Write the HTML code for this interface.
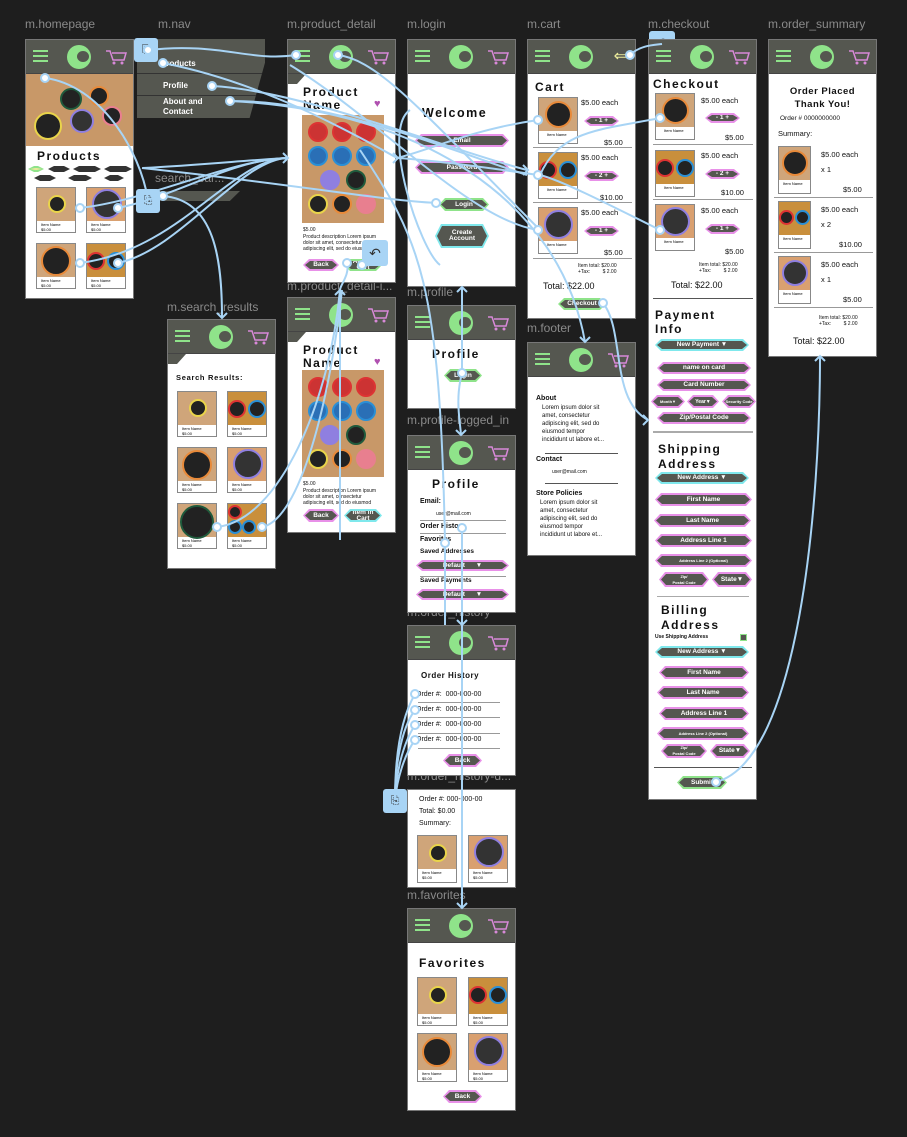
<!DOCTYPE html>
<html><head><meta charset="utf-8"><style>
*{margin:0;padding:0;box-sizing:border-box}
body{width:907px;height:1137px;background:#1e1e1e;position:relative;overflow:hidden;font-family:"Liberation Sans",sans-serif}
.lb{position:absolute;color:#8a8a8a;font-size:12px;white-space:nowrap}
.f{position:absolute;background:#fff;overflow:hidden;border:1px solid #777}
.hdr{position:absolute;left:0;top:0;right:0;height:34px;background:#555750;border-bottom:1px solid #444}
.hb{position:absolute;left:7px;top:10px;width:15px;height:12px;border-top:2px solid #8fe38a;border-bottom:2px solid #8fe38a}
.hb:after{content:"";position:absolute;left:0;right:0;top:3px;height:2px;background:#8fe38a}
.lg{position:absolute;left:41px;top:5px;width:24px;height:24px;border-radius:50%;background:#8fe38a}
.lg:after{content:"";position:absolute;left:10px;top:6px;width:12px;height:11px;border-radius:50%;background:#555750}
.ct{position:absolute;right:6px;top:8px}
.a{position:absolute;white-space:nowrap;color:#111}
.ti{font-weight:bold;font-size:12px;letter-spacing:1.5px}
.sm{font-size:5px;line-height:6px}
.x{font-size:7.5px}
.hx{position:absolute;background:#e890e8;clip-path:polygon(6px 0,calc(100% - 6px) 0,100% 50%,calc(100% - 6px) 100%,6px 100%,0 50%)}
.hx.g{background:#8fe38a}.hx.c{background:#7fe8ec}
.hx span{position:absolute;inset:2px;background:#555750;color:#fff;font-size:6.5px;font-weight:bold;display:flex;align-items:center;justify-content:center;text-align:center;line-height:6px;clip-path:polygon(5px 0,calc(100% - 5px) 0,100% 50%,calc(100% - 5px) 100%,5px 100%,0 50%)}
.t{position:absolute;width:40px;height:46px;border:1px solid #888;background:#fff}
.w{position:absolute;left:0;top:0;right:0;height:33px;background:#cfa57a}
.t .sm{position:absolute;left:4px;top:34px;font-size:4px;line-height:5px}
.cn{position:absolute;border-radius:50%;background:#222;border:2px solid #e9d44a}
.ln{position:absolute;height:1px;background:#999}
.wood{position:absolute;background:#c89868}
</style></head><body>

<div class="lb" style="left:25px;top:17px">m.homepage</div>
<div class="lb" style="left:158px;top:17px">m.nav</div>
<div class="lb" style="left:287px;top:17px">m.product_detail</div>
<div class="lb" style="left:407px;top:17px">m.login</div>
<div class="lb" style="left:527px;top:17px">m.cart</div>
<div class="lb" style="left:648px;top:17px">m.checkout</div>
<div class="lb" style="left:768px;top:17px">m.order_summary</div>
<div class="lb" style="left:155px;top:171px">search_bar...</div>
<div class="lb" style="left:167px;top:300px">m.search_results</div>
<div class="lb" style="left:287px;top:279px">m.product_detail-i...</div>
<div class="lb" style="left:407px;top:285px">m.profile</div>
<div class="lb" style="left:527px;top:321px">m.footer</div>
<div class="lb" style="left:407px;top:413px">m.profile-logged_in</div>
<div class="lb" style="left:407px;top:605px">m.order_history</div>
<div class="lb" style="left:407px;top:769px">m.order_history-d...</div>
<div class="lb" style="left:407px;top:888px">m.favorites</div>

<div style="position:absolute;left:155px;top:191px;width:85px;height:10px;background:#555750;clip-path:polygon(0 0,100% 0,88% 100%,0 100%)"></div>

<div style="position:absolute;left:137px;top:39px;width:128px;height:79px;background:#555750;clip-path:polygon(0 0,100% 0,100% 30%,88% 100%,0 100%)">
<div class="a" style="left:24px;top:20px;color:#fff;font-size:8px;font-weight:bold">Products</div>
<div style="position:absolute;left:0;right:0;top:34px;height:1px;background:#333"></div>
<div class="a" style="left:26px;top:42px;color:#fff;font-size:8px;font-weight:bold">Profile</div>
<div style="position:absolute;left:0;right:0;top:56px;height:1px;background:#333"></div>
<div class="a" style="left:26px;top:58px;color:#fff;font-size:8px;font-weight:bold;line-height:10px">About and<br>Contact</div>
</div>

<div class="f" style="left:25px;top:39px;width:109px;height:260px">
<div class="hdr"><div class="hb"></div><div class="lg"></div><svg class="ct" width="22" height="18"><path d="M1 3h4l3 9h11l2-7H7" fill="none" stroke="#d889d8" stroke-width="1.5"/><circle cx="9" cy="15" r="1.5" fill="#d889d8"/><circle cx="17" cy="15" r="1.5" fill="#d889d8"/></svg></div>
<div class="wood" style="left:0;top:34px;width:109px;height:72px"></div>
<div class="cn" style="left:34px;top:48px;width:22px;height:22px;border-color:#1f5a3c"></div>
<div class="cn" style="left:63px;top:46px;width:20px;height:20px;border-color:#e88a3a"></div>
<div class="cn" style="left:8px;top:72px;width:28px;height:28px;border-color:#e9d44a"></div>
<div class="cn" style="left:44px;top:69px;width:24px;height:24px;border-color:#8f7fe0;background:#333"></div>
<div class="cn" style="left:76px;top:66px;width:20px;height:20px;border-color:#e87f8f"></div>
<div class="a ti" style="left:11px;top:109px">Products</div>
<div class="hx g" style="left:2px;top:126px;width:16px;height:6px"><span style="background:#e9e99a"></span></div>
<div class="hx" style="left:22px;top:126px;width:22px;height:6px;background:#333"></div>
<div class="hx" style="left:47px;top:126px;width:28px;height:6px;background:#333"></div>
<div class="hx" style="left:78px;top:126px;width:28px;height:6px;background:#333"></div>
<div class="hx" style="left:8px;top:135px;width:22px;height:6px;background:#333"></div>
<div class="hx" style="left:42px;top:135px;width:24px;height:6px;background:#333"></div>
<div class="hx" style="left:78px;top:135px;width:20px;height:6px;background:#333"></div>
<div class="t" style="left:10px;top:147px"><div class="w"></div><div class="cn" style="left:11px;top:7px;width:18px;height:18px"></div><div class="sm">Item Name<br>$5.00</div></div>
<div class="t" style="left:60px;top:147px"><div class="w" style="background:#d9a070"></div><div class="cn" style="left:5px;top:1px;width:30px;height:30px;border-color:#8f7fe0;background:#333"></div><div class="sm">Item Name<br>$5.00</div></div>
<div class="t" style="left:10px;top:203px"><div class="w"></div><div class="cn" style="left:4px;top:2px;width:30px;height:30px;border-color:#e88a3a"></div><div class="sm">Item Name<br>$5.00</div></div>
<div class="t" style="left:60px;top:203px"><div class="w" style="background:#c98f3c"></div><div class="cn" style="left:0;top:8px;width:18px;height:18px;border-color:#d33"></div><div class="cn" style="left:20px;top:8px;width:18px;height:18px;border-color:#2a8fd6"></div><div class="sm">Item Name<br>$5.00</div></div>
</div>

<div class="f" style="left:287px;top:39px;width:109px;height:244px">
<div class="hdr"><div class="hb"></div><div class="lg"></div><svg class="ct" width="22" height="18"><path d="M1 3h4l3 9h11l2-7H7" fill="none" stroke="#d889d8" stroke-width="1.5"/><circle cx="9" cy="15" r="1.5" fill="#d889d8"/><circle cx="17" cy="15" r="1.5" fill="#d889d8"/></svg></div>
<div style="position:absolute;left:0;top:34px;width:18px;height:10px;background:#555750;clip-path:polygon(0 0,100% 0,50% 100%,0 100%)"></div>
<div class="a ti" style="left:15px;top:46px;line-height:13px">Product<br>Name</div>
<div class="a" style="left:86px;top:58px;color:#b050b0;font-size:11px">♥</div>
<div class="wood" style="left:14px;top:75px;width:82px;height:108px"></div>
<div class="cn" style="left:20px;top:82px;width:20px;height:20px;border-color:#d33;background:#c33"></div><div class="cn" style="left:44px;top:82px;width:20px;height:20px;border-color:#d33;background:#c33"></div><div class="cn" style="left:68px;top:82px;width:20px;height:20px;border-color:#d33;background:#c33"></div>
<div class="cn" style="left:20px;top:106px;width:20px;height:20px;border-color:#2a8fd6;background:#2a6fb6"></div><div class="cn" style="left:44px;top:106px;width:20px;height:20px;border-color:#2a8fd6;background:#2a6fb6"></div><div class="cn" style="left:68px;top:106px;width:20px;height:20px;border-color:#2a8fd6;background:#2a6fb6"></div>
<div class="cn" style="left:32px;top:130px;width:20px;height:20px;border-color:#8f7fe0;background:#8f7fe0"></div><div class="cn" style="left:58px;top:130px;width:20px;height:20px;border-color:#1f5a3c"></div>
<div class="cn" style="left:20px;top:154px;width:20px;height:20px"></div><div class="cn" style="left:44px;top:154px;width:20px;height:20px;border-color:#e88a3a"></div><div class="cn" style="left:68px;top:154px;width:20px;height:20px;border-color:#e87f8f;background:#e87f8f"></div>
<div class="a sm" style="left:15px;top:187px">$5.00</div>
<div class="a sm" style="left:15px;top:194px">Product description Lorem ipsum<br>dolor sit amet, consectetur<br>adipiscing elit, sed do eiusmod</div>
<div class="hx" style="left:15px;top:219px;width:36px;height:12px"><span>Back</span></div>
<div class="hx g" style="left:56px;top:219px;width:38px;height:12px"><span>Add to Cart</span></div>
</div>
<div style="position:absolute;left:362px;top:240px;width:26px;height:26px;background:#a8d4f5;border-radius:3px;font-size:14px;text-align:center;line-height:26px;color:#333">↶</div>

<div class="f" style="left:287px;top:297px;width:109px;height:236px">
<div class="hdr"><div class="hb"></div><div class="lg"></div><svg class="ct" width="22" height="18"><path d="M1 3h4l3 9h11l2-7H7" fill="none" stroke="#d889d8" stroke-width="1.5"/><circle cx="9" cy="15" r="1.5" fill="#d889d8"/><circle cx="17" cy="15" r="1.5" fill="#d889d8"/></svg></div>
<div style="position:absolute;left:0;top:34px;width:18px;height:10px;background:#555750;clip-path:polygon(0 0,100% 0,50% 100%,0 100%)"></div>
<div class="a ti" style="left:15px;top:46px;line-height:13px">Product<br>Name</div>
<div class="a" style="left:86px;top:58px;color:#b050b0;font-size:11px">♥</div>
<div class="wood" style="left:14px;top:72px;width:82px;height:107px"></div>
<div class="cn" style="left:20px;top:79px;width:20px;height:20px;border-color:#d33;background:#c33"></div><div class="cn" style="left:44px;top:79px;width:20px;height:20px;border-color:#d33;background:#c33"></div><div class="cn" style="left:68px;top:79px;width:20px;height:20px;border-color:#d33;background:#c33"></div>
<div class="cn" style="left:20px;top:103px;width:20px;height:20px;border-color:#2a8fd6;background:#2a6fb6"></div><div class="cn" style="left:44px;top:103px;width:20px;height:20px;border-color:#2a8fd6;background:#2a6fb6"></div><div class="cn" style="left:68px;top:103px;width:20px;height:20px;border-color:#2a8fd6;background:#2a6fb6"></div>
<div class="cn" style="left:32px;top:127px;width:20px;height:20px;border-color:#8f7fe0;background:#8f7fe0"></div><div class="cn" style="left:58px;top:127px;width:20px;height:20px;border-color:#1f5a3c"></div>
<div class="cn" style="left:20px;top:151px;width:20px;height:20px"></div><div class="cn" style="left:44px;top:151px;width:20px;height:20px;border-color:#e88a3a"></div><div class="cn" style="left:68px;top:151px;width:20px;height:20px;border-color:#e87f8f;background:#e87f8f"></div>
<div class="a sm" style="left:15px;top:183px">$5.00</div>
<div class="a sm" style="left:15px;top:190px">Product description Lorem ipsum<br>dolor sit amet, consectetur<br>adipiscing elit, sed do eiusmod</div>
<div class="hx" style="left:15px;top:211px;width:36px;height:13px"><span>Back</span></div>
<div class="hx c" style="left:56px;top:211px;width:38px;height:13px"><span>Item in Cart</span></div>
</div>

<div class="f" style="left:407px;top:39px;width:109px;height:248px">
<div class="hdr"><div class="hb"></div><div class="lg"></div><svg class="ct" width="22" height="18"><path d="M1 3h4l3 9h11l2-7H7" fill="none" stroke="#d889d8" stroke-width="1.5"/><circle cx="9" cy="15" r="1.5" fill="#d889d8"/><circle cx="17" cy="15" r="1.5" fill="#d889d8"/></svg></div>
<div class="a ti" style="left:14px;top:66px;font-size:12.5px">Welcome</div>
<div class="hx" style="left:7px;top:94px;width:94px;height:13px"><span>Email</span></div>
<div class="hx" style="left:7px;top:121px;width:94px;height:13px"><span>Password</span></div>
<div class="hx g" style="left:31px;top:158px;width:50px;height:13px"><span>Login</span></div>
<div class="hx c" style="left:27px;top:184px;width:54px;height:24px"><span>Create<br>Account</span></div>
</div>

<div class="f" style="left:527px;top:39px;width:109px;height:280px">
<div class="hdr"><div class="hb"></div><div class="lg"></div><div class="a" style="right:8px;top:6px;color:#e9e99a;font-size:16px">⇐</div></div>
<div class="a ti" style="left:7px;top:40px">Cart</div>
<div class="t" style="left:10px;top:57px;height:47px"><div class="w"></div><div class="cn" style="left:6px;top:3px;width:27px;height:27px;border-color:#e88a3a"></div><div class="sm" style="left:8px">Item Name</div></div>
<div class="a x" style="left:53px;top:58px">$5.00 each</div>
<div class="hx" style="left:56px;top:76px;width:35px;height:10px"><span>- 1 +</span></div>
<div class="a x" style="left:76px;top:98px">$5.00</div><div class="ln" style="left:5px;top:107px;width:99px"></div>
<div class="t" style="left:10px;top:112px;height:47px"><div class="w" style="background:#c98f3c"></div><div class="cn" style="left:0;top:8px;width:18px;height:18px;border-color:#d33"></div><div class="cn" style="left:20px;top:8px;width:18px;height:18px;border-color:#2a8fd6"></div><div class="sm" style="left:8px">Item Name</div></div>
<div class="a x" style="left:53px;top:113px">$5.00 each</div>
<div class="hx" style="left:56px;top:131px;width:35px;height:10px"><span>- 2 +</span></div>
<div class="a x" style="left:72px;top:153px">$10.00</div><div class="ln" style="left:5px;top:162px;width:99px"></div>
<div class="t" style="left:10px;top:167px;height:47px"><div class="w" style="background:#d9a070"></div><div class="cn" style="left:5px;top:2px;width:29px;height:29px;border-color:#8f7fe0;background:#333"></div><div class="sm" style="left:8px">Item Name</div></div>
<div class="a x" style="left:53px;top:168px">$5.00 each</div>
<div class="hx" style="left:56px;top:186px;width:35px;height:10px"><span>- 1 +</span></div>
<div class="a x" style="left:76px;top:208px">$5.00</div><div class="ln" style="left:5px;top:218px;width:99px"></div>
<div class="a sm" style="left:50px;top:223px">Item total: $20.00<br>+Tax: &nbsp;&nbsp;&nbsp;&nbsp;&nbsp;&nbsp;&nbsp;&nbsp;$ 2.00</div>
<div class="a" style="left:15px;top:241px;font-size:9px">Total: $22.00</div>
<div class="hx g" style="left:30px;top:258px;width:48px;height:12px"><span>Checkout</span></div>
</div>
<div style="position:absolute;left:649px;top:31px;width:26px;height:24px;background:#a8d4f5;border-radius:3px;font-size:14px;text-align:center;line-height:24px;color:#333">↶</div>

<div class="f" style="left:648px;top:39px;width:109px;height:761px">
<div class="hdr"><div class="hb"></div><div class="lg"></div><svg class="ct" width="22" height="18"><path d="M1 3h4l3 9h11l2-7H7" fill="none" stroke="#d889d8" stroke-width="1.5"/><circle cx="9" cy="15" r="1.5" fill="#d889d8"/><circle cx="17" cy="15" r="1.5" fill="#d889d8"/></svg></div>
<div class="a ti" style="left:4px;top:37px">Checkout</div>
<div class="t" style="left:6px;top:53px;height:47px"><div class="w"></div><div class="cn" style="left:6px;top:3px;width:27px;height:27px;border-color:#e88a3a"></div><div class="sm" style="left:8px">Item Name</div></div>
<div class="a x" style="left:52px;top:56px">$5.00 each</div><div class="hx" style="left:56px;top:73px;width:35px;height:10px"><span>- 1 +</span></div>
<div class="a x" style="left:76px;top:93px">$5.00</div><div class="ln" style="left:4px;top:104px;width:100px"></div>
<div class="t" style="left:6px;top:110px;height:47px"><div class="w" style="background:#c98f3c"></div><div class="cn" style="left:0;top:8px;width:18px;height:18px;border-color:#d33"></div><div class="cn" style="left:20px;top:8px;width:18px;height:18px;border-color:#2a8fd6"></div><div class="sm" style="left:8px">Item Name</div></div>
<div class="a x" style="left:52px;top:111px">$5.00 each</div><div class="hx" style="left:56px;top:129px;width:35px;height:10px"><span>- 2 +</span></div>
<div class="a x" style="left:72px;top:148px">$10.00</div><div class="ln" style="left:4px;top:159px;width:100px"></div>
<div class="t" style="left:6px;top:164px;height:47px"><div class="w" style="background:#d9a070"></div><div class="cn" style="left:5px;top:2px;width:29px;height:29px;border-color:#8f7fe0;background:#333"></div><div class="sm" style="left:8px">Item Name</div></div>
<div class="a x" style="left:52px;top:166px">$5.00 each</div><div class="hx" style="left:56px;top:184px;width:35px;height:10px"><span>- 1 +</span></div>
<div class="a x" style="left:76px;top:207px">$5.00</div>
<div class="a sm" style="left:50px;top:222px">Item total: $20.00<br>+Tax: &nbsp;&nbsp;&nbsp;&nbsp;&nbsp;&nbsp;&nbsp;&nbsp;$ 2.00</div>
<div class="a" style="left:22px;top:240px;font-size:9px">Total: $22.00</div>
<div class="ln" style="left:4px;top:258px;width:100px;background:#555"></div>
<div class="a ti" style="left:6px;top:268px;line-height:14px">Payment<br>Info</div>
<div class="hx c" style="left:6px;top:299px;width:94px;height:12px"><span>New Payment ▼</span></div>
<div class="hx" style="left:8px;top:322px;width:94px;height:12px"><span>name on card</span></div>
<div class="hx" style="left:8px;top:339px;width:94px;height:12px"><span>Card Number</span></div>
<div class="hx" style="left:2px;top:355px;width:34px;height:13px"><span style="font-size:4px">Month▼</span></div>
<div class="hx" style="left:38px;top:355px;width:32px;height:13px"><span style="font-size:5px">Year▼</span></div>
<div class="hx" style="left:73px;top:355px;width:34px;height:13px"><span style="font-size:4px">Security Code</span></div>
<div class="hx" style="left:8px;top:372px;width:94px;height:12px"><span>Zip/Postal Code</span></div>
<div class="ln" style="left:4px;top:391px;width:100px;background:#aaa;height:2px"></div>
<div class="a ti" style="left:9px;top:402px;line-height:15px">Shipping<br>Address</div>
<div class="hx c" style="left:6px;top:432px;width:94px;height:12px"><span>New Address ▼</span></div>
<div class="hx" style="left:6px;top:453px;width:97px;height:13px"><span>First Name</span></div>
<div class="hx" style="left:5px;top:474px;width:97px;height:13px"><span>Last Name</span></div>
<div class="hx" style="left:6px;top:494px;width:97px;height:13px"><span>Address Line 1</span></div>
<div class="hx" style="left:6px;top:514px;width:97px;height:13px"><span style="font-size:4px">Address Line 2 (Optional)</span></div>
<div class="hx" style="left:10px;top:532px;width:50px;height:15px"><span style="font-size:4px">Zip/<br>Postal Code</span></div>
<div class="hx" style="left:63px;top:532px;width:40px;height:15px"><span>State▼</span></div>
<div class="ln" style="left:8px;top:556px;width:92px;background:#aaa"></div>
<div class="a ti" style="left:12px;top:563px;line-height:15px">Billing<br>Address</div>
<div class="a" style="left:6px;top:594px;font-size:5px;font-weight:bold">Use Shipping Address</div>
<div style="position:absolute;left:91px;top:594px;width:7px;height:7px;background:#555750;border:1px solid #8fe38a"></div>
<div class="hx c" style="left:6px;top:606px;width:94px;height:12px"><span>New Address ▼</span></div>
<div class="hx" style="left:10px;top:626px;width:90px;height:13px"><span>First Name</span></div>
<div class="hx" style="left:8px;top:646px;width:92px;height:13px"><span>Last Name</span></div>
<div class="hx" style="left:10px;top:667px;width:90px;height:13px"><span>Address Line 1</span></div>
<div class="hx" style="left:8px;top:687px;width:92px;height:13px"><span style="font-size:4px">Address Line 2 (Optional)</span></div>
<div class="hx" style="left:12px;top:704px;width:46px;height:14px"><span style="font-size:4px">Zip/<br>Postal Code</span></div>
<div class="hx" style="left:61px;top:704px;width:40px;height:14px"><span>State▼</span></div>
<div class="ln" style="left:5px;top:727px;width:98px;background:#555"></div>
<div class="hx g" style="left:28px;top:736px;width:50px;height:13px"><span>Submit</span></div>
</div>

<div class="f" style="left:768px;top:39px;width:109px;height:318px">
<div class="hdr"><div class="hb"></div><div class="lg"></div><svg class="ct" width="22" height="18"><path d="M1 3h4l3 9h11l2-7H7" fill="none" stroke="#d889d8" stroke-width="1.5"/><circle cx="9" cy="15" r="1.5" fill="#d889d8"/><circle cx="17" cy="15" r="1.5" fill="#d889d8"/></svg></div>
<div class="a ti" style="left:0;right:0;top:45px;text-align:center;font-size:9.5px;line-height:13px;letter-spacing:0.5px">Order Placed<br>Thank You!</div>
<div class="a" style="left:11px;top:75px;font-size:6.5px">Order # 0000000000</div>
<div class="a x" style="left:9px;top:89px">Summary:</div>
<div class="t" style="left:9px;top:106px;height:48px;width:33px"><div class="w"></div><div class="cn" style="left:3px;top:3px;width:26px;height:26px;border-color:#e88a3a"></div><div class="sm">Item Name</div></div>
<div class="a x" style="left:52px;top:107px;line-height:15px">$5.00 each<br>x 1</div><div class="a x" style="left:74px;top:145px">$5.00</div><div class="ln" style="left:5px;top:157px;width:99px"></div>
<div class="t" style="left:9px;top:161px;height:48px;width:33px"><div class="w" style="background:#c98f3c"></div><div class="cn" style="left:0;top:8px;width:15px;height:15px;border-color:#d33"></div><div class="cn" style="left:16px;top:8px;width:15px;height:15px;border-color:#2a8fd6"></div><div class="sm">Item Name</div></div>
<div class="a x" style="left:52px;top:162px;line-height:15px">$5.00 each<br>x 2</div><div class="a x" style="left:70px;top:200px">$10.00</div><div class="ln" style="left:5px;top:212px;width:99px"></div>
<div class="t" style="left:9px;top:216px;height:48px;width:33px"><div class="w" style="background:#d9a070"></div><div class="cn" style="left:3px;top:3px;width:26px;height:26px;border-color:#8f7fe0;background:#333"></div><div class="sm">Item Name</div></div>
<div class="a x" style="left:52px;top:217px;line-height:15px">$5.00 each<br>x 1</div><div class="a x" style="left:74px;top:255px">$5.00</div><div class="ln" style="left:5px;top:267px;width:99px"></div>
<div class="a sm" style="left:50px;top:275px">Item total: $20.00<br>+Tax: &nbsp;&nbsp;&nbsp;&nbsp;&nbsp;&nbsp;&nbsp;&nbsp;$ 2.00</div>
<div class="a" style="left:24px;top:296px;font-size:9px">Total: $22.00</div>
</div>

<div class="f" style="left:167px;top:319px;width:109px;height:250px">
<div class="hdr"><div class="hb"></div><div class="lg"></div><svg class="ct" width="22" height="18"><path d="M1 3h4l3 9h11l2-7H7" fill="none" stroke="#d889d8" stroke-width="1.5"/><circle cx="9" cy="15" r="1.5" fill="#d889d8"/><circle cx="17" cy="15" r="1.5" fill="#d889d8"/></svg></div>
<div style="position:absolute;left:0;top:34px;width:18px;height:10px;background:#555750;clip-path:polygon(0 0,100% 0,50% 100%,0 100%)"></div>
<div class="a" style="left:8px;top:53px;font-size:7.5px;font-weight:bold;letter-spacing:0.7px">Search Results:</div>
<div class="t" style="left:9px;top:71px"><div class="w"></div><div class="cn" style="left:11px;top:7px;width:18px;height:18px"></div><div class="sm">Item Name<br>$5.00</div></div>
<div class="t" style="left:59px;top:71px"><div class="w" style="background:#c98f3c"></div><div class="cn" style="left:0;top:8px;width:18px;height:18px;border-color:#d33"></div><div class="cn" style="left:20px;top:8px;width:18px;height:18px;border-color:#2a8fd6"></div><div class="sm">Item Name<br>$5.00</div></div>
<div class="t" style="left:9px;top:127px"><div class="w"></div><div class="cn" style="left:4px;top:2px;width:30px;height:30px;border-color:#e88a3a"></div><div class="sm">Item Name<br>$5.00</div></div>
<div class="t" style="left:59px;top:127px"><div class="w" style="background:#d9a070"></div><div class="cn" style="left:5px;top:1px;width:30px;height:30px;border-color:#8f7fe0;background:#333"></div><div class="sm">Item Name<br>$5.00</div></div>
<div class="t" style="left:9px;top:183px"><div class="w"></div><div class="cn" style="left:2px;top:1px;width:34px;height:34px;border-color:#1f5a3c"></div><div class="sm">Item Name<br>$5.00</div></div>
<div class="t" style="left:59px;top:183px"><div class="w" style="background:#c98f3c"></div><div class="cn" style="left:0;top:16px;width:14px;height:14px;border-color:#2a8fd6"></div><div class="cn" style="left:14px;top:16px;width:14px;height:14px;border-color:#2a8fd6"></div><div class="cn" style="left:0;top:1px;width:14px;height:14px;border-color:#d33"></div><div class="sm">Item Name<br>$5.00</div></div>
</div>

<div class="f" style="left:407px;top:305px;width:109px;height:104px">
<div class="hdr"><div class="hb"></div><div class="lg"></div><svg class="ct" width="22" height="18"><path d="M1 3h4l3 9h11l2-7H7" fill="none" stroke="#d889d8" stroke-width="1.5"/><circle cx="9" cy="15" r="1.5" fill="#d889d8"/><circle cx="17" cy="15" r="1.5" fill="#d889d8"/></svg></div>
<div class="a ti" style="left:24px;top:41px">Profile</div>
<div class="hx g" style="left:36px;top:63px;width:38px;height:13px"><span>Login</span></div>
</div>

<div class="f" style="left:527px;top:342px;width:109px;height:214px">
<div class="hdr"><div class="hb"></div><div class="lg"></div><svg class="ct" width="22" height="18"><path d="M1 3h4l3 9h11l2-7H7" fill="none" stroke="#d889d8" stroke-width="1.5"/><circle cx="9" cy="15" r="1.5" fill="#d889d8"/><circle cx="17" cy="15" r="1.5" fill="#d889d8"/></svg></div>
<div class="a" style="left:8px;top:52px;font-size:7px;font-weight:bold">About</div>
<div class="a" style="left:14px;top:61px;font-size:6px;line-height:8px">Lorem ipsum dolor sit<br>amet, consectetur<br>adipiscing elit, sed do<br>eiusmod tempor<br>incididunt ut labore et...</div>
<div class="ln" style="left:17px;top:110px;width:73px;background:#555"></div>
<div class="a" style="left:8px;top:113px;font-size:7px;font-weight:bold">Contact</div>
<div class="a" style="left:24px;top:126px;font-size:5px">user@mail.com</div>
<div class="ln" style="left:17px;top:140px;width:73px;background:#555"></div>
<div class="a" style="left:8px;top:147px;font-size:7px;font-weight:bold">Store Policies</div>
<div class="a" style="left:12px;top:156px;font-size:6px;line-height:8px">Lorem ipsum dolor sit<br>amet, consectetur<br>adipiscing elit, sed do<br>eiusmod tempor<br>incididunt ut labore et...</div>
</div>

<div class="f" style="left:407px;top:435px;width:109px;height:178px">
<div class="hdr"><div class="hb"></div><div class="lg"></div><svg class="ct" width="22" height="18"><path d="M1 3h4l3 9h11l2-7H7" fill="none" stroke="#d889d8" stroke-width="1.5"/><circle cx="9" cy="15" r="1.5" fill="#d889d8"/><circle cx="17" cy="15" r="1.5" fill="#d889d8"/></svg></div>
<div class="a ti" style="left:24px;top:41px">Profile</div>
<div class="a" style="left:12px;top:62px;font-size:7px;font-weight:bold">Email:</div>
<div class="a" style="left:28px;top:75px;font-size:5px">user@mail.com</div>
<div class="ln" style="left:12px;top:84px;width:86px"></div>
<div class="a" style="left:12px;top:87px;font-size:7px;font-weight:bold">Order History</div>
<div class="ln" style="left:12px;top:97px;width:86px"></div>
<div class="a" style="left:12px;top:100px;font-size:7px;font-weight:bold">Favorites</div>
<div class="a" style="left:12px;top:112px;font-size:6.5px;font-weight:bold">Saved Addresses</div>
<div class="hx" style="left:8px;top:124px;width:93px;height:11px"><span>Default &nbsp;&nbsp;&nbsp;&nbsp;&nbsp;▼</span></div>
<div class="ln" style="left:12px;top:140px;width:86px"></div>
<div class="a" style="left:12px;top:141px;font-size:6.5px;font-weight:bold">Saved Payments</div>
<div class="hx" style="left:8px;top:153px;width:93px;height:11px"><span>Default &nbsp;&nbsp;&nbsp;&nbsp;&nbsp;▼</span></div>
</div>

<div class="f" style="left:407px;top:625px;width:109px;height:151px">
<div class="hdr"><div class="hb"></div><div class="lg"></div><svg class="ct" width="22" height="18"><path d="M1 3h4l3 9h11l2-7H7" fill="none" stroke="#d889d8" stroke-width="1.5"/><circle cx="9" cy="15" r="1.5" fill="#d889d8"/><circle cx="17" cy="15" r="1.5" fill="#d889d8"/></svg></div>
<div class="a" style="left:13px;top:45px;font-size:8px;font-weight:bold;letter-spacing:0.5px">Order History</div>
<div class="a" style="left:8px;top:65px;font-size:7px">Order #: &nbsp;000-000-00</div><div class="ln" style="left:10px;top:76px;width:82px"></div>
<div class="a" style="left:8px;top:80px;font-size:7px">Order #: &nbsp;000-000-00</div><div class="ln" style="left:10px;top:91px;width:82px"></div>
<div class="a" style="left:8px;top:95px;font-size:7px">Order #: &nbsp;000-000-00</div><div class="ln" style="left:10px;top:107px;width:82px"></div>
<div class="a" style="left:8px;top:110px;font-size:7px">Order #: &nbsp;000-000-00</div><div class="ln" style="left:10px;top:122px;width:82px"></div>
<div class="hx" style="left:35px;top:128px;width:39px;height:13px"><span>Back</span></div>
</div>

<div class="f" style="left:407px;top:789px;width:109px;height:99px">
<div class="a" style="left:11px;top:6px;font-size:7px">Order #: 000-000-00</div>
<div class="a" style="left:11px;top:18px;font-size:7px">Total: $0.00</div>
<div class="a" style="left:11px;top:30px;font-size:7px">Summary:</div>
<div class="t" style="left:9px;top:45px;height:48px"><div class="w"></div><div class="cn" style="left:11px;top:8px;width:18px;height:18px"></div><div class="sm">Item Name<br>$5.00</div></div>
<div class="t" style="left:60px;top:45px;height:48px"><div class="w" style="background:#d9a070"></div><div class="cn" style="left:5px;top:1px;width:30px;height:30px;border-color:#8f7fe0;background:#333"></div><div class="sm">Item Name<br>$5.00</div></div>
</div>
<div style="position:absolute;left:383px;top:789px;width:24px;height:24px;background:#a8d4f5;border-radius:3px;font-size:11px;text-align:center;line-height:24px;color:#333">⎘</div>
<div style="position:absolute;left:136px;top:189px;width:24px;height:24px;background:#a8d4f5;border-radius:3px;font-size:11px;text-align:center;line-height:24px;color:#333">⎘</div>
<div style="position:absolute;left:134px;top:38px;width:24px;height:24px;background:#a8d4f5;border-radius:3px;font-size:11px;text-align:center;line-height:24px;color:#333">⎘</div>

<div class="f" style="left:407px;top:908px;width:109px;height:203px">
<div class="hdr"><div class="hb"></div><div class="lg"></div><svg class="ct" width="22" height="18"><path d="M1 3h4l3 9h11l2-7H7" fill="none" stroke="#d889d8" stroke-width="1.5"/><circle cx="9" cy="15" r="1.5" fill="#d889d8"/><circle cx="17" cy="15" r="1.5" fill="#d889d8"/></svg></div>
<div class="a ti" style="left:11px;top:47px">Favorites</div>
<div class="t" style="left:9px;top:68px;height:49px"><div class="w" style="height:36px"></div><div class="cn" style="left:11px;top:8px;width:18px;height:18px"></div><div class="sm" style="top:37px">Item Name<br>$5.00</div></div>
<div class="t" style="left:60px;top:68px;height:49px"><div class="w" style="height:36px;background:#c98f3c"></div><div class="cn" style="left:0;top:8px;width:18px;height:18px;border-color:#d33"></div><div class="cn" style="left:20px;top:8px;width:18px;height:18px;border-color:#2a8fd6"></div><div class="sm" style="top:37px">Item Name<br>$5.00</div></div>
<div class="t" style="left:9px;top:124px;height:49px"><div class="w" style="height:36px"></div><div class="cn" style="left:4px;top:3px;width:30px;height:30px;border-color:#e88a3a"></div><div class="sm" style="top:37px">Item Name<br>$5.00</div></div>
<div class="t" style="left:60px;top:124px;height:49px"><div class="w" style="height:36px;background:#d9a070"></div><div class="cn" style="left:5px;top:2px;width:30px;height:30px;border-color:#8f7fe0;background:#333"></div><div class="sm" style="top:37px">Item Name<br>$5.00</div></div>
<div class="hx" style="left:35px;top:181px;width:39px;height:13px"><span>Back</span></div>
</div>

<svg style="position:absolute;left:0;top:0" width="907" height="1137">
<g fill="none" stroke="#a8d4f5" stroke-width="2">
<path d="M148,50 C220,42 250,62 296,55"/>
<path d="M163,63 C250,80 330,120 397,158"/>
<path d="M212,86 C300,90 450,150 527,170"/>
<path d="M230,101 C330,100 450,150 527,175"/>
<path d="M230,101 C420,110 560,200 585,342"/>
<path d="M45,78 C100,85 140,150 148,200"/>
<path d="M163,196 C215,200 222,260 222,318"/>
<path d="M80,208 C150,200 230,160 287,158"/>
<path d="M118,208 C180,195 230,160 287,158"/>
<path d="M80,263 C180,250 230,160 287,158"/>
<path d="M118,263 C180,250 240,160 287,158"/>
<path d="M143,168 C200,165 250,160 287,158"/>
<path d="M436,203 C380,200 300,185 142,168"/>
<path d="M338,55 C380,60 430,120 540,230"/>
<path d="M538,120 C470,130 430,150 397,158"/>
<path d="M538,175 C470,165 430,160 397,158"/>
<path d="M538,230 C470,220 380,120 290,65"/>
<path d="M630,55 C640,45 655,45 662,44"/>
<path d="M660,118 C600,130 560,130 540,175"/>
<path d="M660,230 C600,200 560,180 540,175"/>
<path d="M603,303 C625,330 610,400 648,420"/>
<path d="M716,782 C800,760 820,500 820,356"/>
<path d="M347,263 C350,275 340,285 340,290 L340,540"/>
<path d="M217,527 C280,520 330,400 340,290"/>
<path d="M262,527 C300,520 330,400 342,290"/>
<path d="M462,373 L462,287"/>
<path d="M462,373 C455,400 460,420 461,435"/>
<path d="M462,528 L462,625 L462,908"/>
<path d="M445,543 L445,625"/>
<path d="M415,694 C400,720 395,760 395,800"/>
<path d="M415,710 C400,730 395,770 395,800"/>
<path d="M415,725 C402,745 396,775 395,800"/>
<path d="M415,740 C404,755 397,780 395,800"/>
<path d="M440,265 C420,250 380,130 410,110"/>
<path d="M360,150 C420,240 440,280 445,543"/>
</g>
<g fill="none" stroke="#a8d4f5" stroke-width="2">
<path d="M283,153 L288,158 L283,163"/><path d="M393,153 L398,158 L393,163"/>
<path d="M523,165 L528,170 L523,175"/><path d="M580,337 L585,342 L590,337"/>
<path d="M217,313 L222,318 L227,313"/><path d="M643,415 L648,420 L643,425"/>
<path d="M815,361 L820,356 L825,361"/><path d="M457,292 L462,287 L467,292"/>
<path d="M456,430 L461,435 L466,430"/><path d="M457,620 L462,625 L467,620"/>
<path d="M457,903 L462,908 L467,903"/><path d="M335,295 L340,290 L345,295"/>
</g>
<g fill="#fff" stroke="#a8d4f5" stroke-width="2">
<circle cx="163" cy="63" r="4"/><circle cx="212" cy="86" r="4"/><circle cx="230" cy="101" r="4"/>
<circle cx="45" cy="78" r="4"/><circle cx="80" cy="208" r="4"/><circle cx="118" cy="208" r="4"/>
<circle cx="80" cy="263" r="4"/><circle cx="118" cy="263" r="4"/><circle cx="163" cy="196" r="4"/>
<circle cx="436" cy="203" r="4"/><circle cx="296" cy="55" r="4"/><circle cx="338" cy="55" r="4"/>
<circle cx="538" cy="120" r="4"/><circle cx="538" cy="175" r="4"/><circle cx="538" cy="230" r="4"/>
<circle cx="630" cy="55" r="4"/><circle cx="660" cy="118" r="4"/><circle cx="660" cy="230" r="4"/>
<circle cx="603" cy="303" r="4"/><circle cx="716" cy="782" r="4"/><circle cx="347" cy="263" r="4"/>
<circle cx="362" cy="265" r="4"/><circle cx="217" cy="527" r="4"/><circle cx="262" cy="527" r="4"/>
<circle cx="462" cy="373" r="4"/><circle cx="462" cy="528" r="4"/><circle cx="445" cy="543" r="4"/>
<circle cx="415" cy="694" r="4"/><circle cx="415" cy="710" r="4"/><circle cx="415" cy="725" r="4"/>
<circle cx="415" cy="740" r="4"/><circle cx="148" cy="50" r="4"/>
</g>
</svg>
</body></html>
